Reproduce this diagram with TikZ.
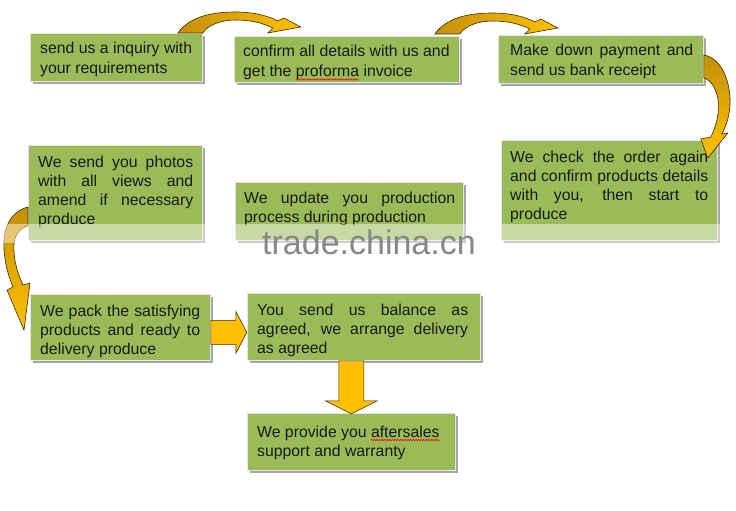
\documentclass[tikz,border=0pt]{standalone}
\usepackage{fontspec}
\setmainfont{Liberation Sans}
\usetikzlibrary{shadows,decorations.pathmorphing,calc}
\definecolor{boxgreen}{RGB}{155,187,89}
\definecolor{arrowdark}{RGB}{196,144,12}
\definecolor{arrowlight}{RGB}{255,192,0}
\definecolor{arrowline}{RGB}{60,45,0}
\definecolor{txtcol}{RGB}{25,25,25}
\definecolor{wmgray}{RGB}{135,135,135}
\newcommand\J[1]{{\spaceskip=0pt\xspaceskip=0pt\makebox[\linewidth][s]{#1}}}
\newcommand\resetsp{\spaceskip=0pt\xspaceskip=0pt\relax}
\tikzset{
  arrowA/.pic={
    \path[curvearrow, left color=arrowdark, right color=arrowlight]
      (-25,0) .. controls (-12,-18) and (13,-21) .. (33,-21)
      .. controls (53,-21) and (68,-16) .. (75,-12)
      -- (81,-15) -- (98,-6) -- (65,0) -- (70,-5)
      .. controls (60,-10) and (48,-13) .. (33,-13)
      .. controls (18,-13) and (5,-8) .. (0,0) -- cycle;
  },
  arrowC/.pic={
    \path[curvearrow, top color=arrowdark, bottom color=arrowlight]
      (0,20) .. controls (19,23) and (28,50) .. (26,73)
      .. controls (25,83) and (22,92) .. (18,99)
      -- (24,98) -- (4,123) -- (-3,104) -- (7,102)
      .. controls (13,90) and (16,77) .. (14,63)
      .. controls (12,53) and (7,45) .. (0,43) -- cycle;
  },
  arrowD/.pic={
    \path[curvearrow, top color=arrowdark, bottom color=arrowlight]
      (0,62) .. controls (-13,65) and (-23,77) .. (-24,95)
      .. controls (-25,113) and (-20,130) .. (-15,142)
      -- (-21,145) -- (-4,185) -- (2,138) -- (-5,140)
      .. controls (-11,127) and (-15,113) .. (-14,98)
      .. controls (-13,90) and (-8,83) .. (0,81) -- cycle;
  }
}
\begin{document}
\begin{tikzpicture}[x=1pt,y=-1pt,
  box/.style={draw=white!80!gray, line width=0.8pt, fill=boxgreen, anchor=north west, inner sep=0pt,
    drop shadow={shadow xshift=3pt,shadow yshift=-3pt,fill=black,opacity=0.35}},
  txtnode/.style={anchor=base west, inner sep=0pt, align=flush left, text=txtcol, font=\fontsize{15.8}{19.3}\selectfont\resetsp},
  blockarrow/.style={draw=arrowline, line width=0.6pt, fill=arrowlight, line join=miter},
  curvearrow/.style={draw=arrowline, line width=0.6pt},
  spell/.style={red, line width=0.6pt, decorate, decoration={snake, amplitude=0.7pt, segment length=2.6pt}}]
\useasboundingbox (0,0) rectangle (736,511);
\fill[white] (0,0) rectangle (736,511);

% boxes
\node[box, minimum width=172pt, minimum height=48pt] (b1) at (30,33) {};
\node[box, minimum width=225pt, minimum height=46pt] (b2) at (234,36) {};
\node[box, minimum width=205pt, minimum height=48pt] (b3) at (498,35) {};
\node[box, minimum width=216pt, minimum height=100pt] (b4) at (501,140) {};
\node[box, minimum width=174pt, minimum height=95pt] (b5) at (28,145) {};
\node[box, minimum width=228pt, minimum height=58pt] (b6) at (235,182) {};
\node[box, minimum width=180pt, minimum height=66pt] (b7) at (30,294) {};
\node[box, minimum width=233pt, minimum height=67pt] (b8) at (247,293) {};
\node[box, minimum width=208pt, minimum height=57pt] (b9) at (247,413) {};

% texts
\node[txtnode, text width=160pt] (t1) at ([shift={(10,21)}]b1.north west)
  {\resetsp send us a inquiry with\\\resetsp your requirements};
\node[txtnode, text width=215pt] (t2) at ([shift={(9,21)}]b2.north west)
  {\resetsp confirm all details with us and\\\resetsp get the proforma invoice};
\node[txtnode, text width=183pt] (t3) at ([shift={(12,21)}]b3.north west)
  {\J{Make down payment and}\\\resetsp send us bank receipt};
\node[txtnode, text width=198pt] (t4) at ([shift={(9,22)}]b4.north west)
  {\J{We check the order again}\\\J{and confirm products details}\\\J{with you, then start to}\\produce};
\node[txtnode, text width=155pt] (t5) at ([shift={(10,22)}]b5.north west)
  {\J{We send you photos}\\\J{with all views and}\\\J{amend if necessary}\\produce};
\node[txtnode, text width=211pt] (t6) at ([shift={(9,21)}]b6.north west)
  {\J{We update you production}\\\resetsp process during production};
\node[txtnode, text width=160pt] (t7) at ([shift={(10,22)}]b7.north west)
  {\J{We pack the satisfying}\\\J{products and ready to}\\\resetsp delivery produce};
\node[txtnode, text width=211pt] (t8) at ([shift={(10,22)}]b8.north west)
  {\J{You send us balance as}\\\J{agreed, we arrange delivery}\\\resetsp as agreed};
\node[txtnode, text width=190pt] (t9) at ([shift={(10,24)}]b9.north west)
  {\resetsp We provide you aftersales\\\resetsp support and warranty};

% spelling squiggles
\draw[spell] ([shift={(52.7,22.5)}]t2.base west) -- ++(63,0);
\draw[spell] ([shift={(114,3)}]t9.base west) -- ++(68.5,0);

% curved arrows
\pic at (b1.north east) {arrowA};
\pic at ([yshift=2pt]b2.north east) {arrowA};
\pic at (b3.north east) {arrowC};
\pic at (b5.north west) {arrowD};

% straight block arrows
\draw[blockarrow] ([yshift=-5pt]b7.east) ++(0,-12) -- ++(25,0) -- ++(0,-9) -- ++(11,21)
  -- ++(-11,21) -- ++(0,-9) -- ++(-25,0) -- cycle;
\draw[blockarrow] ([xshift=-12.5pt]b8.south) ++(-12.5,0) -- ++(25,0) -- ++(0,40) -- ++(13.5,0)
  -- ++(-26,13) -- ++(-26,-13) -- ++(13.5,0) -- cycle;

% watermark band and text
\fill[white, opacity=0.45] (0,224) rectangle (736,243);
\node[anchor=base west, inner sep=0pt, text=wmgray, font=\fontsize{34}{34}\selectfont] (wm) at (262,254) {trade.china.cn};
\end{tikzpicture}
\end{document}
